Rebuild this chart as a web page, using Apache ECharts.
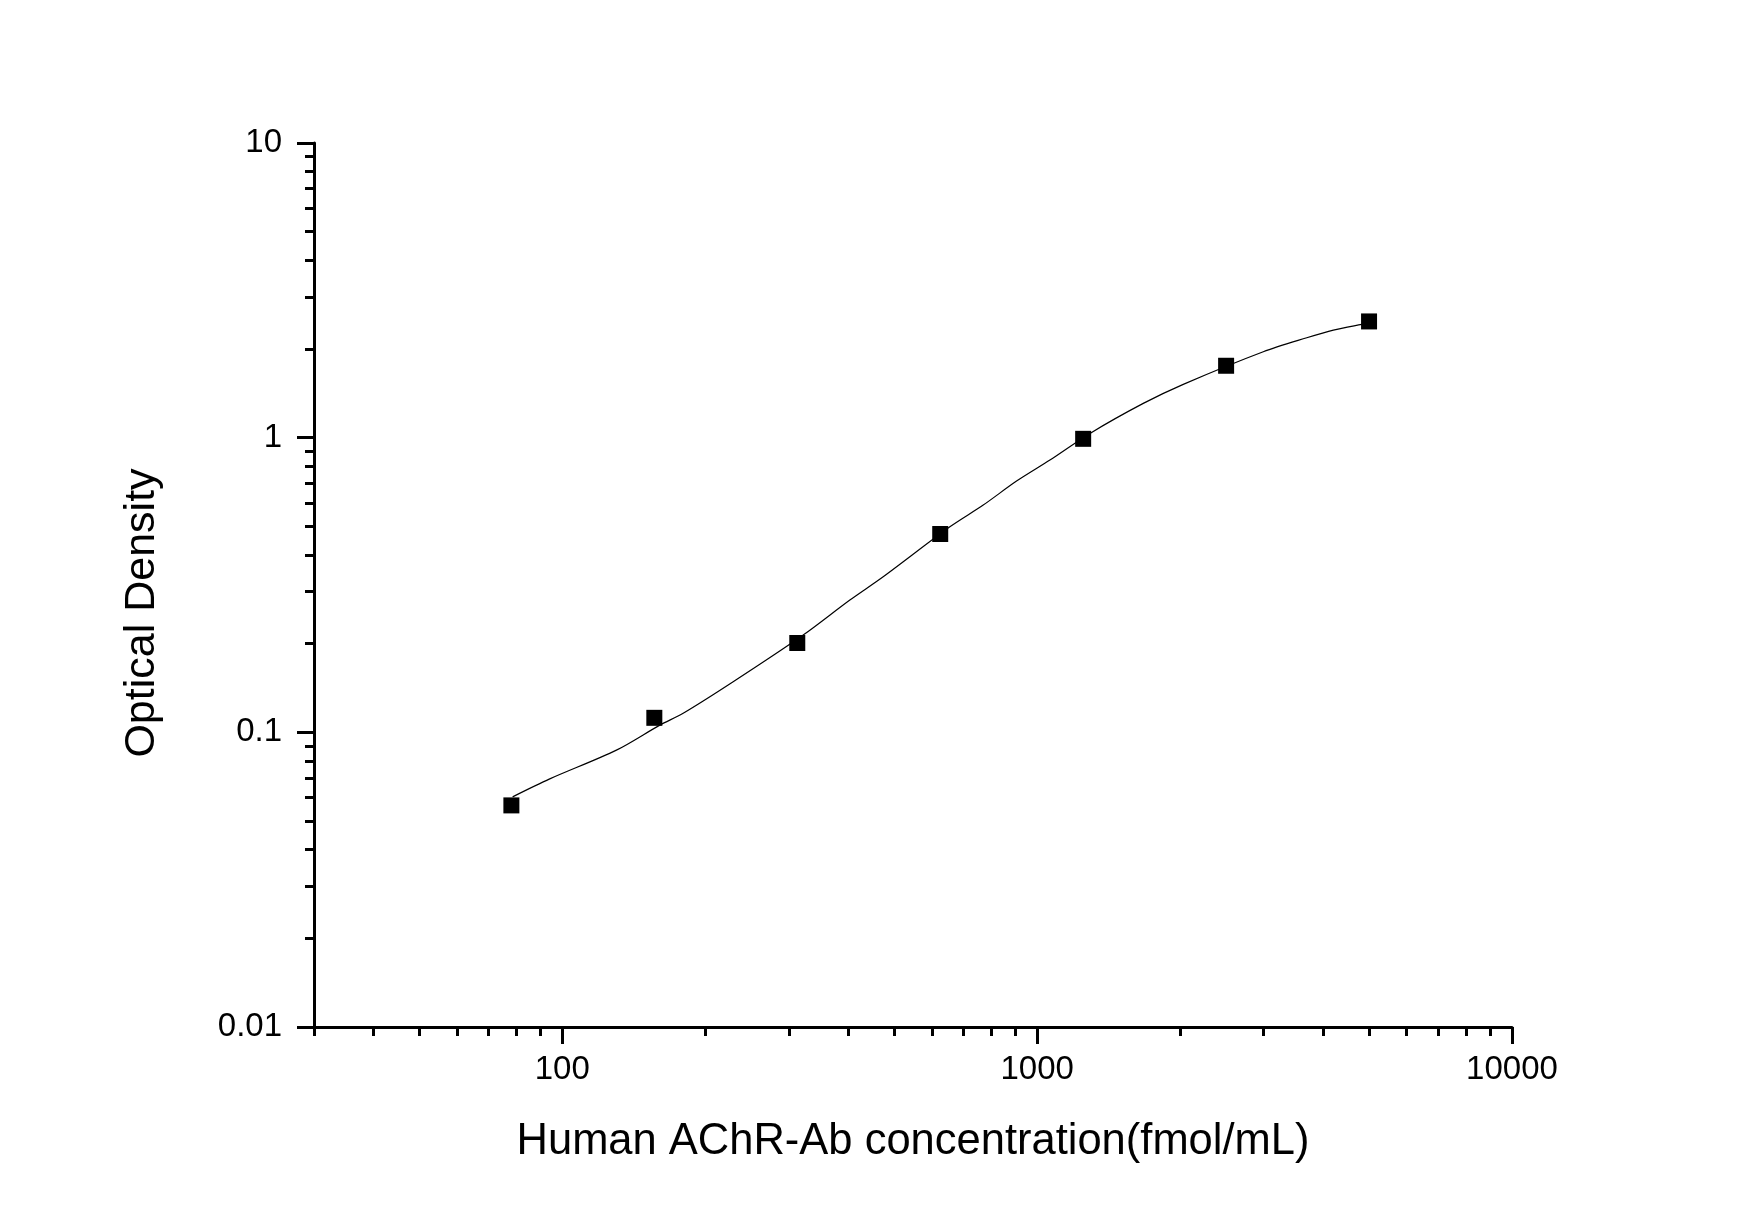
<!DOCTYPE html>
<html>
<head>
<meta charset="utf-8">
<title>Human AChR-Ab standard curve</title>
<script src="https://cdn.jsdelivr.net/npm/echarts@6.0.0/dist/echarts.min.js"></script>
<style>
  html, body { margin: 0; padding: 0; background: #fff; }
  #chart { width: 1755px; height: 1230px; }
</style>
</head>
<body>
<div id="chart"></div>
<script>
// standard points (concentration, OD)
var concentrations = [78.125, 156.25, 312.5, 625, 1250, 2500, 5000];
var odValues = [0.0565, 0.112, 0.201, 0.471, 0.991, 1.754, 2.48];

// fitted curve
var curveX = [78.6, 94.1, 130, 160.5, 179.7, 229, 321.6, 403.3, 474, 655, 770, 905, 1064, 1292, 1673, 2031, 2994, 3697, 4205, 4828, 5000];
var curveY = [0.0604, 0.0695, 0.087, 0.1058, 0.116, 0.1484, 0.2138, 0.2811, 0.3372, 0.4984, 0.5905, 0.7123, 0.8395, 1.034, 1.307, 1.517, 1.957, 2.183, 2.318, 2.425, 2.45];

// ticks
var xMajor = [100, 1000, 10000];
var xMinor = [30, 40, 50, 60, 70, 80, 90, 200, 300, 400, 500, 600, 700, 800, 900, 2000, 3000, 4000, 5000, 6000, 7000, 8000, 9000];
var yMajor = [0.01, 0.1, 1, 10];
var yMinor = [0.02, 0.03, 0.04, 0.05, 0.06, 0.07, 0.08, 0.09, 0.2, 0.3, 0.4, 0.5, 0.6, 0.7, 0.8, 0.9, 2, 3, 4, 5, 6, 7, 8, 9];

var FONT = 'Liberation Sans, Arial, sans-serif';
var chart = echarts.init(document.getElementById('chart'), null, { renderer: 'canvas' });

function pairs(xs, ys) {
  var out = [];
  for (var i = 0; i < xs.length; i++) out.push([xs[i], ys[i]]);
  return out;
}

// plain number, no thousands separator
function plain(v) { return String(+Number(v).toPrecision(3)); }

var gridBox = { left: 314, right: 243, top: 143, bottom: 203 };

chart.setOption({
  backgroundColor: '#fff',
  animation: false,
  grid: [
    { left: gridBox.left, right: gridBox.right, top: gridBox.top, bottom: gridBox.bottom },
    // second grid only carries the minor ticks
    { left: gridBox.left, right: gridBox.right, top: gridBox.top, bottom: gridBox.bottom }
  ],
  xAxis: [
    {
      type: 'log', logBase: 10, min: 30, max: 10000, gridIndex: 0,
      name: 'Human AChR-Ab concentration(fmol/mL)',
      nameLocation: 'middle', nameGap: 93,
      nameTextStyle: { fontSize: 43.5, color: '#000', fontFamily: FONT },
      axisLine: { lineStyle: { color: '#000', width: 3 } },
      axisTick: { length: 17, customValues: xMajor, lineStyle: { color: '#000', width: 3 } },
      axisLabel: { customValues: xMajor, margin: 26, fontSize: 33, color: '#000', fontFamily: FONT, formatter: plain },
      splitLine: { show: false }
    },
    {
      type: 'log', logBase: 10, min: 30, max: 10000, gridIndex: 1,
      axisLine: { show: false },
      axisTick: { length: 9, customValues: xMinor, lineStyle: { color: '#000', width: 3 } },
      axisLabel: { show: false },
      splitLine: { show: false }
    }
  ],
  yAxis: [
    {
      type: 'log', logBase: 10, min: 0.01, max: 10, gridIndex: 0,
      name: 'Optical Density',
      nameLocation: 'middle', nameGap: 150,
      nameTextStyle: { fontSize: 43, color: '#000', fontFamily: FONT, padding: [0, 56, 0, 0] },
      axisLine: { lineStyle: { color: '#000', width: 3 } },
      axisTick: { length: 17, customValues: yMajor, lineStyle: { color: '#000', width: 3 } },
      axisLabel: { customValues: yMajor, margin: 32, fontSize: 33, color: '#000', fontFamily: FONT, formatter: plain },
      splitLine: { show: false }
    },
    {
      type: 'log', logBase: 10, min: 0.01, max: 10, gridIndex: 1,
      axisLine: { show: false },
      axisTick: { length: 9, customValues: yMinor, lineStyle: { color: '#000', width: 3 } },
      axisLabel: { show: false },
      splitLine: { show: false }
    }
  ],
  series: [
    {
      name: 'fit',
      type: 'line',
      xAxisIndex: 0, yAxisIndex: 0,
      smooth: 0.3,
      showSymbol: false,
      lineStyle: { color: '#000', width: 1.2 },
      data: pairs(curveX, curveY),
      z: 2
    },
    {
      name: 'standards',
      type: 'scatter',
      xAxisIndex: 0, yAxisIndex: 0,
      symbol: 'rect',
      symbolSize: 16,
      itemStyle: { color: '#000', opacity: 1 },
      data: pairs(concentrations, odValues),
      z: 3
    }
  ]
});
</script>
</body>
</html>
